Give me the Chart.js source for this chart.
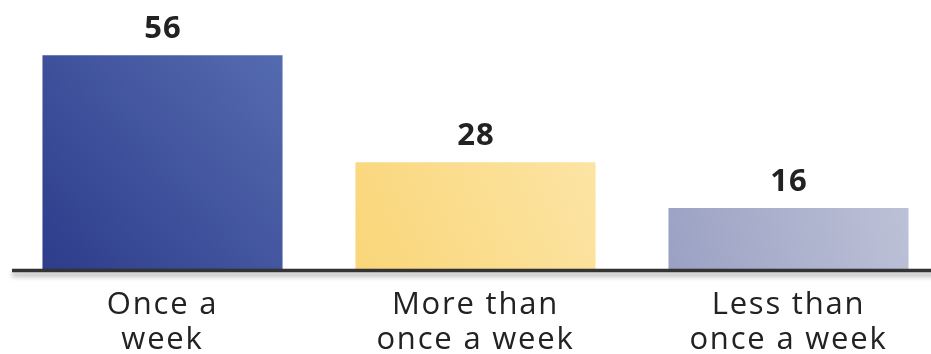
<!DOCTYPE html>
<html>
<head>
<meta charset="utf-8">
<script src="https://cdn.jsdelivr.net/npm/chart.js@4/dist/chart.umd.min.js"></script>
<style>
  html, body { margin: 0; padding: 0; background: #fff; overflow: hidden; }
  #wrap { width: 945px; height: 354px; }
</style>
</head>
<body>
<div id="wrap"><canvas id="c" width="945" height="354"></canvas></div>
<script>
const categories = [["Once a", "week"], ["More than", "once a week"], ["Less than", "once a week"]];
const values = [56, 28, 16];
const gradientStops = [
  ["#2d3c8b", "#556bb0"],
  ["#f9d679", "#fce4a4"],
  ["#9ba1c3", "#bdc1d7"]
];

const valueLabels = {
  id: 'valueLabels',
  afterDatasetsDraw(chart) {
    const ctx = chart.ctx;
    const meta = chart.getDatasetMeta(0);
    ctx.save();
    ctx.letterSpacing = '1px';
    ctx.font = 'bold 31px "Open Sans"';
    ctx.fillStyle = '#222222';
    ctx.textAlign = 'center';
    ctx.textBaseline = 'middle';
    meta.data.forEach((bar, i) => {
      ctx.fillText(String(values[i]), bar.x + 0.5, bar.y - 26);
    });
    ctx.restore();
  }
};

const spacing = {
  id: 'spacing',
  beforeDraw(chart) { chart.ctx.letterSpacing = '1.8px'; },
  afterDraw(chart) { chart.ctx.letterSpacing = '0px'; }
};

const baseline = {
  id: 'baseline',
  afterDatasetsDraw(chart) {
    const ctx = chart.ctx;
    const y = chart.chartArea.bottom + 1.5;
    ctx.save();
    ctx.shadowColor = 'rgba(0,0,0,0.35)';
    ctx.shadowBlur = 5;
    ctx.shadowOffsetY = 4;
    ctx.strokeStyle = '#333333';
    ctx.lineWidth = 3.5;
    ctx.beginPath();
    ctx.moveTo(chart.chartArea.left + 6, y);
    ctx.lineTo(chart.width, y);
    ctx.stroke();
    ctx.restore();
  }
};

function barGradient(context) {
  const chart = context.chart;
  const i = context.dataIndex;
  const xs = chart.scales.x, ys = chart.scales.y;
  if (!xs || !ys || !chart.chartArea) return gradientStops[i][0];
  const cx = xs.getPixelForValue(i);
  const top = ys.getPixelForValue(values[i]);
  const bottom = ys.getPixelForValue(0);
  const half = 120;
  const g = chart.ctx.createLinearGradient(cx - half, bottom, cx + half, top);
  g.addColorStop(0, gradientStops[i][0]);
  g.addColorStop(1, gradientStops[i][1]);
  return g;
}

new Chart(document.getElementById('c'), {
  type: 'bar',
  data: {
    labels: categories,
    datasets: [{
      data: values,
      backgroundColor: barGradient,
      borderWidth: 0,
      barPercentage: 0.767,
      categoryPercentage: 1.0
    }]
  },
  options: {
    responsive: false,
    animation: false,
    events: [],
    layout: { padding: { top: 40, left: 6, right: 0, bottom: 0 } },
    plugins: { legend: { display: false }, tooltip: { enabled: false } },
    scales: {
      x: {
        grid: { display: false },
        border: { display: false },
        ticks: {
          color: '#222222',
          font: { family: '"Open Sans"', size: 31, lineHeight: 1.13 },
          padding: 11,
          maxRotation: 0,
          autoSkip: false
        },
        afterFit(scale) { scale.height = 85; }
      },
      y: {
        display: false,
        min: 0,
        max: 60
      }
    }
  },
  plugins: [spacing, valueLabels, baseline]
});
</script>
</body>
</html>
